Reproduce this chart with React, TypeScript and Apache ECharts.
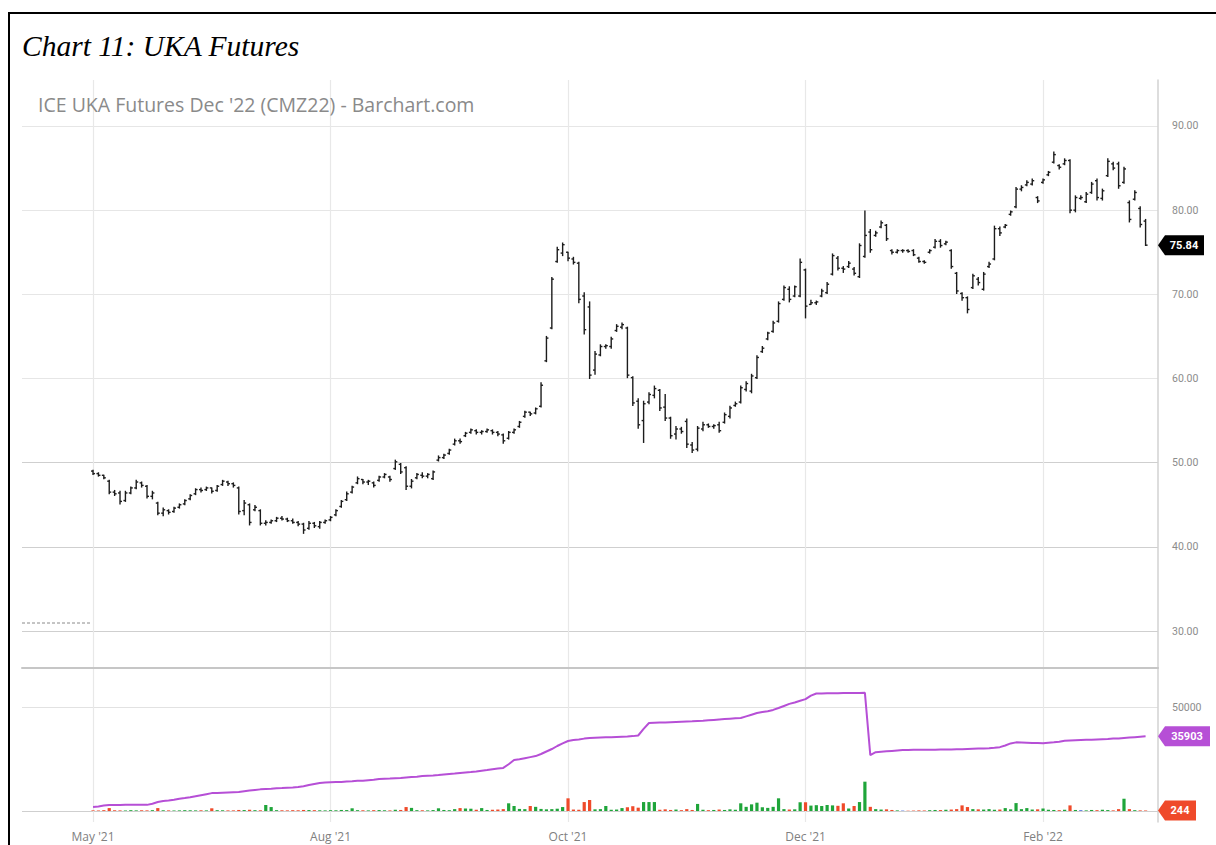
import React, { useEffect, useRef } from 'react';
import * as echarts from 'echarts';

// ---- axis definitions ----
const monthIndex = [0, 44, 88, 132, 176];
const monthLabels = ["May '21", "Aug '21", "Oct '21", "Dec '21", "Feb '22"];
const priceTicks = [30, 40, 50, 60, 70, 80, 90];
const volumeTicks = [0, 50000];
const volumeLabelTicks = [50000];

// ---- daily bars: [open, high, low, close] ----
const ohlc: number[][] = [
  [49.0, 49.1, 48.6, 48.7], [48.7, 48.8, 48.4, 48.5], [48.5, 48.5, 48.1, 48.2], [47.8, 47.9, 46.3, 46.5], [46.5, 46.7, 46.1, 46.3],
  [46.4, 46.6, 45.1, 45.4], [45.5, 46.6, 45.4, 46.4], [46.4, 47.1, 46.3, 47.0], [47.0, 47.9, 46.9, 47.7], [47.6, 47.7, 47.1, 47.3],
  [47.2, 47.3, 45.8, 46.0], [46.0, 46.6, 45.7, 46.4], [45.2, 45.3, 43.8, 44.0], [44.0, 44.6, 43.7, 44.4], [44.3, 44.4, 43.9, 44.1],
  [44.2, 44.7, 44.1, 44.6], [44.7, 45.1, 44.6, 45.0], [45.1, 45.6, 45.0, 45.5], [45.7, 46.2, 45.6, 46.1], [46.3, 46.9, 46.2, 46.8],
  [46.8, 47.0, 46.5, 46.7], [46.8, 47.1, 46.7, 47.0], [47.0, 47.0, 46.4, 46.6], [46.7, 47.3, 46.6, 47.2], [47.4, 47.9, 47.3, 47.8],
  [47.7, 47.8, 47.3, 47.5], [47.5, 47.6, 47.1, 47.3], [47.0, 47.1, 43.9, 44.2], [44.3, 45.5, 43.8, 45.2], [45.0, 45.1, 42.6, 42.9],
  [44.4, 44.9, 44.3, 44.7], [44.3, 44.4, 42.6, 42.8], [42.8, 43.1, 42.6, 42.9], [42.9, 43.2, 42.8, 43.1], [43.1, 43.5, 43.0, 43.4],
  [43.4, 43.6, 43.2, 43.3], [43.3, 43.4, 43.0, 43.1], [43.1, 43.3, 42.8, 42.9], [42.9, 43.0, 42.5, 42.7], [42.7, 42.8, 41.6, 42.0],
  [42.2, 43.0, 42.1, 42.8], [42.8, 42.9, 42.3, 42.5], [42.4, 43.0, 42.2, 42.9], [42.9, 43.2, 42.8, 43.1], [43.2, 43.6, 43.1, 43.5],
  [43.8, 44.4, 43.7, 44.3], [44.8, 45.5, 44.7, 45.4], [45.6, 46.5, 45.5, 46.3], [46.5, 47.2, 46.4, 47.1], [47.6, 48.3, 47.5, 48.1],
  [48.0, 48.0, 47.5, 47.7], [47.7, 47.9, 47.4, 47.8], [47.6, 47.7, 47.1, 47.3], [47.9, 48.4, 47.8, 48.3], [48.3, 48.7, 48.2, 48.6],
  [48.3, 48.4, 47.8, 48.0], [49.3, 50.3, 49.2, 50.1], [49.8, 49.9, 48.7, 48.9], [49.4, 49.5, 46.8, 47.2], [47.2, 48.0, 47.0, 47.8],
  [48.2, 48.7, 48.1, 48.6], [48.5, 48.8, 48.2, 48.4], [48.4, 48.7, 48.2, 48.6], [48.1, 49.0, 48.0, 48.9], [50.3, 50.8, 50.2, 50.6],
  [50.6, 51.0, 50.5, 50.9], [51.1, 51.6, 51.0, 51.5], [52.2, 52.8, 52.1, 52.6], [52.6, 52.8, 52.3, 52.5], [53.2, 53.6, 53.1, 53.5],
  [53.6, 54.0, 53.5, 53.9], [53.8, 53.9, 53.4, 53.6], [53.6, 53.8, 53.4, 53.7], [53.7, 54.0, 53.6, 53.9], [53.8, 53.9, 53.4, 53.6],
  [53.6, 53.7, 53.2, 53.4], [53.3, 53.4, 52.3, 52.6], [52.9, 53.7, 52.8, 53.6], [53.6, 54.0, 53.5, 53.9], [54.3, 54.9, 54.2, 54.8],
  [55.5, 56.1, 55.4, 56.0], [56.0, 56.0, 55.6, 55.8], [55.9, 56.5, 55.8, 56.4], [56.7, 59.5, 56.6, 59.2], [62.1, 65.0, 62.0, 64.8],
  [66.0, 72.0, 65.9, 71.8], [73.9, 75.6, 73.8, 75.3], [74.9, 76.1, 74.6, 75.9], [75.0, 75.0, 74.0, 74.3], [74.2, 74.4, 73.6, 73.8],
  [73.7, 73.8, 69.0, 69.4], [69.8, 70.2, 65.3, 65.8], [68.5, 69.1, 60.0, 60.4], [61.0, 63.2, 60.5, 62.9], [62.8, 64.0, 62.7, 63.8],
  [63.8, 64.0, 63.6, 63.9], [63.8, 64.9, 63.6, 64.7], [65.7, 66.4, 65.6, 66.2], [66.1, 66.6, 65.9, 66.4], [66.0, 66.1, 60.1, 60.4],
  [60.1, 60.2, 56.8, 57.1], [57.3, 57.6, 54.1, 54.5], [55.0, 57.3, 52.4, 57.0], [57.2, 58.3, 57.0, 58.1], [58.0, 59.1, 57.7, 58.8],
  [58.6, 58.7, 56.2, 56.5], [56.6, 58.1, 55.0, 55.3], [55.3, 55.4, 52.9, 53.2], [53.4, 54.3, 52.8, 54.0], [54.0, 54.2, 53.5, 53.7],
  [54.9, 55.2, 51.8, 52.2], [52.1, 52.4, 51.2, 51.5], [51.6, 54.3, 51.4, 54.1], [54.0, 54.8, 53.8, 54.5], [54.5, 54.6, 54.2, 54.3],
  [54.3, 54.5, 54.1, 54.4], [54.5, 54.8, 53.6, 53.8], [54.8, 55.9, 54.7, 55.7], [55.5, 56.7, 55.3, 56.5], [56.8, 57.2, 56.7, 57.0],
  [57.2, 59.1, 57.1, 58.9], [58.7, 59.6, 58.5, 59.4], [58.5, 60.5, 58.3, 60.3], [60.1, 62.7, 60.0, 62.5], [63.2, 63.8, 63.1, 63.6],
  [64.7, 65.5, 64.6, 65.4], [65.6, 66.8, 65.5, 66.6], [66.8, 69.1, 66.7, 68.9], [69.4, 71.0, 69.3, 70.8], [70.6, 70.9, 69.1, 69.4],
  [69.8, 71.0, 69.7, 70.9], [69.8, 74.2, 69.7, 73.8], [72.9, 73.0, 67.2, 68.6], [68.8, 69.3, 68.8, 69.0], [69.0, 69.2, 68.8, 69.1],
  [69.8, 70.6, 69.7, 70.4], [70.2, 71.4, 70.1, 71.2], [72.4, 74.8, 72.3, 74.6], [74.3, 74.5, 72.9, 73.1], [73.1, 73.3, 72.6, 73.0],
  [73.3, 73.9, 73.2, 73.7], [73.0, 73.2, 72.3, 72.5], [72.1, 76.0, 72.0, 75.8], [74.5, 79.9, 74.4, 77.0], [77.4, 77.7, 75.0, 75.3],
  [77.0, 77.5, 76.9, 77.3], [78.0, 78.7, 77.9, 78.5], [78.2, 78.3, 76.4, 76.6], [75.2, 75.3, 74.8, 75.0], [75.0, 75.3, 74.9, 75.2],
  [75.2, 75.3, 75.0, 75.2], [75.2, 75.3, 75.0, 75.1], [75.2, 75.3, 74.6, 74.7], [74.3, 74.4, 73.8, 73.9], [73.9, 74.0, 73.7, 73.8],
  [75.0, 75.3, 74.9, 75.2], [75.6, 76.5, 75.5, 76.3], [76.3, 76.5, 75.6, 75.8], [76.0, 76.3, 75.9, 76.2], [75.2, 75.3, 73.1, 73.3],
  [72.5, 72.6, 70.1, 70.4], [70.1, 70.2, 69.3, 69.6], [69.6, 69.7, 67.8, 68.2], [70.8, 72.4, 70.7, 72.2], [71.8, 72.0, 71.1, 71.4],
  [70.6, 72.6, 70.5, 72.4], [73.3, 73.8, 73.2, 73.6], [74.2, 78.1, 74.1, 77.8], [77.8, 78.0, 77.0, 77.3], [78.0, 78.3, 77.9, 78.2],
  [79.5, 79.9, 79.4, 79.8], [80.4, 82.7, 80.3, 82.5], [82.5, 82.9, 82.3, 82.7], [83.0, 83.5, 82.9, 83.3], [83.1, 83.7, 83.0, 83.5],
  [81.5, 81.6, 80.9, 81.1], [83.3, 83.7, 83.2, 83.6], [84.2, 84.6, 84.1, 84.5], [85.7, 86.9, 85.6, 86.6], [85.3, 85.4, 84.9, 85.1],
  [85.5, 86.1, 85.4, 85.9], [85.9, 86.0, 79.7, 80.0], [80.0, 81.7, 79.8, 81.5], [81.4, 81.7, 81.3, 81.5], [81.0, 82.1, 80.9, 81.9],
  [82.1, 83.3, 82.0, 83.1], [83.5, 83.7, 81.2, 81.5], [81.4, 82.5, 81.2, 82.3], [84.1, 86.1, 84.0, 85.8], [85.5, 85.7, 84.8, 85.0],
  [85.5, 85.7, 82.6, 82.9], [83.3, 85.1, 83.2, 84.9], [80.9, 81.1, 78.6, 78.9], [81.3, 82.3, 81.2, 82.1], [80.2, 80.4, 78.0, 78.3],
  [78.7, 78.9, 75.8, 75.84],
];

// ---- daily volume ----
const volume: number[] = [
  300, 250, 400, 1400, 350, 300, 250, 400, 300, 350,
  300, 400, 1400, 350, 300, 250, 300, 400, 350, 300,
  350, 300, 1300, 400, 350, 300, 300, 500, 450, 600,
  400, 350, 2900, 1900, 400, 350, 300, 400, 350, 500,
  450, 400, 350, 300, 400, 350, 500, 450, 1300, 400,
  350, 300, 400, 450, 350, 300, 600, 500, 1900, 1500,
  400, 350, 300, 450, 1300, 500, 400, 900, 1400, 1200,
  1100, 600, 1400, 500, 600, 700, 900, 3700, 2400, 1000,
  900, 2400, 2000, 1000, 800, 900, 1100, 1900, 6100, 700,
  600, 4300, 5300, 800, 900, 2400, 600, 700, 1400, 1800,
  2300, 1600, 4300, 4300, 4300, 600, 800, 500, 700, 400,
  900, 500, 3400, 600, 400, 500, 700, 500, 800, 600,
  3700, 2000, 3200, 4000, 1800, 1500, 2000, 6100, 900, 700,
  800, 4200, 4200, 2600, 2800, 2400, 2900, 2700, 2500, 3700,
  1200, 2400, 4300, 14100, 2000, 900, 700, 800, 500, 300,
  200, 150, 200, 300, 250, 400, 500, 450, 600, 700,
  900, 2700, 1900, 900, 800, 700, 900, 600, 700, 1400,
  800, 3800, 900, 1400, 700, 800, 1200, 600, 500, 400,
  600, 2700, 500, 400, 300, 500, 400, 600, 450, 300,
  900, 5900, 900, 400, 300, 244,
];

// ---- open interest ----
const openInterest: number[] = [
  1900, 2200, 2600, 2900, 2900, 2900, 2950, 2950, 2950, 2950,
  2950, 3500, 4300, 4800, 5000, 5400, 5900, 6200, 6600, 7100,
  7600, 8100, 8600, 8700, 8800, 8900, 9000, 9100, 9500, 9800,
  10100, 10400, 10600, 10700, 10900, 11000, 11200, 11300, 11500, 11900,
  12500, 13000, 13500, 13700, 13800, 13900, 14000, 14200, 14300, 14500,
  14600, 14800, 15000, 15400, 15500, 15600, 15800, 15900, 16100, 16300,
  16500, 16800, 17000, 17100, 17300, 17600, 17800, 18000, 18300, 18500,
  18700, 19000, 19400, 19700, 20100, 20400, 20700, 22500, 24500, 24900,
  25400, 25900, 26400, 27400, 28600, 29800, 31250, 32500, 33650, 34100,
  34400, 34800, 35100, 35200, 35300, 35400, 35500, 35600, 35700, 35800,
  36000, 36300, 39500, 42300, 42400, 42500, 42600, 42700, 42800, 42900,
  43000, 43100, 43300, 43400, 43600, 43800, 44000, 44200, 44400, 44600,
  44700, 45500, 46300, 47100, 47600, 48000, 48600, 49500, 50500, 51500,
  52200, 53000, 53800, 55500, 56500, 56500, 56600, 56600, 56600, 56700,
  56700, 56700, 56700, 56800, 26900, 28300, 28500, 28700, 28900, 29100,
  29300, 29300, 29400, 29400, 29400, 29500, 29500, 29600, 29600, 29600,
  29700, 29700, 29800, 29900, 30000, 30100, 30200, 30400, 30700, 31500,
  32500, 33000, 32900, 32800, 32700, 32700, 32600, 32800, 33000, 33300,
  33800, 33900, 34000, 34100, 34200, 34300, 34400, 34500, 34600, 34800,
  34900, 35100, 35300, 35500, 35700, 35903,
];

// dashed reference level drawn before the first bar
const priorLevel = 30.95;

const X_MIN = -13.16;
const X_MAX = 197.3;

function tagSymbol(w: number) {
  return `path://M0,10 L7,0 L${w},0 L${w},20 L7,20 Z`;
}

function makeTag(w: number, color: string, coord: number[], value: string) {
  return {
    silent: true,
    symbol: tagSymbol(w),
    symbolSize: [w, 20],
    symbolOffset: [w / 2, 0],
    symbolKeepAspect: false,
    itemStyle: { color },
    label: {
      show: true,
      position: 'inside',
      color: '#fff',
      fontSize: 11,
      fontWeight: 'bold',
      fontFamily: 'Roboto',
      offset: [3, 0],
      formatter: () => value,
    },
    data: [{ coord, value }],
  };
}

export default function App() {
  const ref = useRef<HTMLDivElement>(null);

  useEffect(() => {
    if (!ref.current) return;
    const chart = echarts.init(ref.current, undefined, { renderer: 'svg' });

    const closes = ohlc.map((b) => b[3]);
    const volColor = (i: number) => {
      const prev = i === 0 ? ohlc[0][0] : closes[i - 1];
      if (closes[i] > prev) return '#1fa53a';
      if (closes[i] < prev) return '#ef4a2a';
      return '#4a6de0';
    };
    const last = ohlc.length - 1;

    const axisLabelStyle = { color: '#8c8c8c', fontSize: 10.5, fontFamily: 'Roboto' };

    const option: any = {
      animation: false,
      backgroundColor: '#ffffff',
      title: [
        {
          text: 'Chart 11: UKA Futures',
          left: 22,
          top: 31,
          padding: 0,
          textStyle: { fontFamily: 'Liberation Serif', fontStyle: 'italic', fontWeight: 'normal', fontSize: 29.5, color: '#000' },
        },
        {
          text: "ICE UKA Futures Dec '22 (CMZ22) - Barchart.com",
          left: 38,
          top: 94,
          padding: 0,
          textStyle: { fontFamily: 'Open Sans', fontWeight: 'normal', fontSize: 19.5, color: '#8a8a8a' },
        },
      ],
      graphic: [
        {
          type: 'rect',
          silent: true,
          shape: { x: 9, y: 13, width: 1240, height: 900 },
          style: { fill: 'none', stroke: '#000', lineWidth: 2 },
        },
      ],
      grid: [
        { left: 22, right: 58, top: 80, height: 588 },
        { left: 22, right: 58, top: 668, height: 154 },
      ],
      xAxis: [
        {
          gridIndex: 0,
          type: 'value',
          min: X_MIN,
          max: X_MAX,
          axisLine: { show: true, onZero: false, lineStyle: { color: '#c6c6c6', width: 2 } },
          axisTick: { show: false, customValues: monthIndex },
          axisLabel: { show: false },
          splitLine: { show: true, lineStyle: { color: '#e8e8e8', width: 1.2 } },
        },
        {
          gridIndex: 1,
          type: 'value',
          min: X_MIN,
          max: X_MAX,
          axisLine: { show: false, onZero: false },
          axisTick: { show: false, customValues: monthIndex },
          axisLabel: {
            customValues: monthIndex,
            formatter: (v: number) => monthLabels[monthIndex.indexOf(v)] ?? '',
            color: '#808080',
            fontSize: 12,
            fontFamily: 'Open Sans',
            margin: 8,
          },
          splitLine: { show: true, lineStyle: { color: '#e8e8e8', width: 1.2 } },
        },
      ],
      yAxis: [
        {
          gridIndex: 0,
          type: 'value',
          position: 'right',
          min: 25.604,
          max: 95.465,
          axisLine: { show: true, onZero: false, lineStyle: { color: '#d2d2d2', width: 1.5 } },
          axisTick: { show: false, customValues: priceTicks },
          axisLabel: {
            customValues: priceTicks,
            formatter: (v: number) => v.toFixed(2),
            margin: 14,
            ...axisLabelStyle,
          },
          splitLine: {
            show: true,
            lineStyle: {
              color: ['#cfcfcf', '#cfcfcf', '#cfcfcf', '#e6e6e6', '#e6e6e6', '#e6e6e6', '#e6e6e6'],
              width: 1.2,
            },
          },
        },
        {
          gridIndex: 1,
          type: 'value',
          position: 'right',
          min: -5288,
          max: 68750,
          axisLine: { show: true, onZero: false, lineStyle: { color: '#d2d2d2', width: 1.5 } },
          axisTick: { show: false, customValues: volumeTicks },
          axisLabel: {
            customValues: volumeLabelTicks,
            formatter: (v: number) => String(v),
            margin: 14,
            ...axisLabelStyle,
          },
          splitLine: { show: true, lineStyle: { color: ['#cfcfcf', '#e2e2e2'], width: 1.2 } },
        },
      ],
      series: [
        {
          type: 'custom',
          name: 'CMZ22',
          xAxisIndex: 0,
          yAxisIndex: 0,
          encode: { x: 0, y: [1, 2, 3, 4] },
          data: ohlc.map((b, i) => [i, b[0], b[1], b[2], b[3]]),
          renderItem: (params: any, api: any) => {
            const x = api.value(0);
            const top = api.coord([x, api.value(2)]);
            const bot = api.coord([x, api.value(3)]);
            const po = api.coord([x, api.value(1)]);
            const pc = api.coord([x, api.value(4)]);
            const cx = top[0];
            const style = { stroke: '#1c1c1c', lineWidth: 1.4 };
            return {
              type: 'group',
              children: [
                { type: 'line', shape: { x1: cx, y1: top[1] - 0.5, x2: cx, y2: bot[1] + 0.5 }, style },
                { type: 'line', shape: { x1: cx - 2, y1: po[1], x2: cx, y2: po[1] }, style },
                { type: 'line', shape: { x1: cx, y1: pc[1], x2: cx + 2, y2: pc[1] }, style },
              ],
            };
          },
        },
        {
          type: 'line',
          name: 'prior',
          xAxisIndex: 0,
          yAxisIndex: 0,
          showSymbol: false,
          silent: true,
          data: [
            [X_MIN, priorLevel],
            [-0.5, priorLevel],
          ],
          lineStyle: { color: '#8a8a8a', width: 1, type: [3, 2] },
          markPoint: makeTag(46, '#000000', [X_MAX, closes[last]], closes[last].toFixed(2)),
        },
        {
          type: 'bar',
          name: 'Volume',
          xAxisIndex: 1,
          yAxisIndex: 1,
          barWidth: 3.2,
          data: volume.map((v, i) => ({ value: [i, v], itemStyle: { color: volColor(i) } })),
          markPoint: makeTag(38, '#ef4a2a', [X_MAX, volume[last]], String(volume[last])),
        },
        {
          type: 'line',
          name: 'Open Interest',
          xAxisIndex: 1,
          yAxisIndex: 1,
          showSymbol: false,
          z: 5,
          data: openInterest.map((v, i) => [i, v]),
          lineStyle: { color: '#b64fd6', width: 2 },
          itemStyle: { color: '#b64fd6' },
          markPoint: makeTag(52, '#b64fd6', [X_MAX, openInterest[last]], String(openInterest[last])),
        },
      ],
    };

    chart.setOption(option);
    return () => chart.dispose();
  }, []);

  return (
    <div
      ref={ref}
      style={{ position: 'absolute', left: 0, top: 0, width: 1216, height: 845, background: '#fff' }}
    />
  );
}
